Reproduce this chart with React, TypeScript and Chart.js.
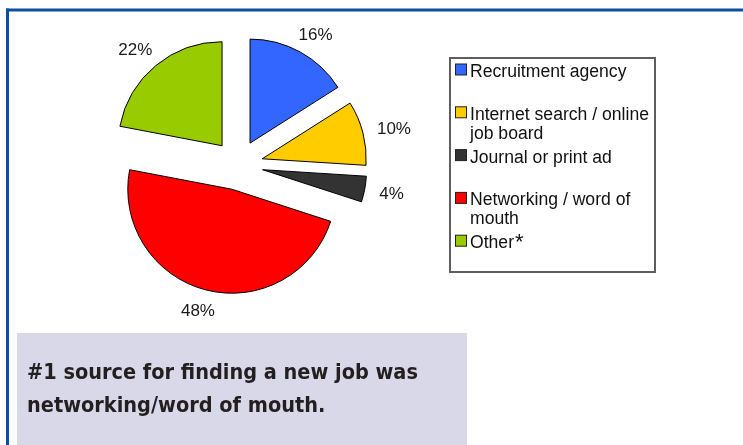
import React, { useEffect, useRef } from 'react';
import { Chart, registerables } from 'chart.js';

Chart.register(...registerables);

// ---- data ----
const categories: string[][] = [
  ['Recruitment agency'],
  ['Internet search / online', 'job board'],
  ['Journal or print ad'],
  ['Networking / word of', 'mouth'],
  ['Other*'],
];
const values: number[] = [16, 10, 4, 48, 22];
const sliceColors: string[] = ['#3366FF', '#FFCC00', '#333333', '#FF0000', '#99CC00'];
const valueSuffix = '%';
const captionLines: string[] = ['#1 source for finding a new job was', 'networking/word of mouth.'];

// ---- styling constants ----
const W = 743;
const H = 445;
const EXPLODE = 25;
const LABEL_GAP = 15;
const FONT = '"Liberation Sans", Arial, sans-serif';
const LEGEND_FONT = '17.6px ' + FONT;

const explodePlugin = {
  id: 'explode',
  beforeDatasetDraw(_chart: any, args: any) {
    args.meta.data.forEach((arc: any) => {
      if (arc.__exploded) return;
      const orig = arc.draw;
      arc.draw = function (ctx: CanvasRenderingContext2D, area: any) {
        const mid = (this.startAngle + this.endAngle) / 2;
        ctx.save();
        ctx.translate(Math.cos(mid) * EXPLODE, Math.sin(mid) * EXPLODE);
        orig.call(this, ctx, area);
        ctx.restore();
      };
      arc.__exploded = true;
    });
  },
};

const backgroundPlugin = {
  id: 'bgframe',
  beforeDraw(chart: any) {
    const ctx: CanvasRenderingContext2D = chart.ctx;
    ctx.save();
    ctx.fillStyle = '#FFFFFF';
    ctx.fillRect(0, 0, W, H);
    // blue frame
    ctx.fillStyle = '#0D4F9E';
    ctx.fillRect(6, 8.5, W - 6, 3);
    ctx.fillRect(6, 8.5, 3, H - 8.5);
    // caption box
    ctx.fillStyle = '#D9D8E8';
    ctx.fillRect(17, 333, 450, H - 333);
    ctx.fillStyle = '#231F20';
    ctx.font = 'bold 21.5px "DejaVu Sans Condensed", "DejaVu Sans", sans-serif';
    ctx.textAlign = 'left';
    ctx.textBaseline = 'alphabetic';
    captionLines.forEach((line, i) => {
      ctx.fillText(line, 27, 379 + i * 33);
    });
    ctx.restore();
  },
};

const labelPlugin = {
  id: 'pctLabels',
  afterDatasetsDraw(chart: any) {
    const ctx: CanvasRenderingContext2D = chart.ctx;
    const meta = chart.getDatasetMeta(0);
    ctx.save();
    ctx.font = '17px ' + FONT;
    ctx.fillStyle = '#1A1A1A';
    ctx.textAlign = 'center';
    ctx.textBaseline = 'alphabetic';
    meta.data.forEach((arc: any, i: number) => {
      const p = arc.getProps(['x', 'y', 'startAngle', 'endAngle', 'outerRadius'], true);
      const mid = (p.startAngle + p.endAngle) / 2;
      const dx = Math.cos(mid);
      const dy = Math.sin(mid);
      const text = chart.data.datasets[0].data[i] + valueSuffix;
      const w = ctx.measureText(text).width;
      const h = 12;
      const R = EXPLODE + p.outerRadius + LABEL_GAP;
      const cx = p.x + dx * R + (dx * w) / 2;
      const cy = p.y + dy * R + (dy * h) / 2;
      ctx.fillText(text, cx, cy + 6);
    });
    ctx.restore();
  },
};

const legendPlugin = {
  id: 'boxLegend',
  afterDraw(chart: any) {
    const ctx: CanvasRenderingContext2D = chart.ctx;
    const labels: string[][] = chart.data.labels;
    const colors: string[] = chart.data.datasets[0].backgroundColor;
    ctx.save();
    // box
    ctx.strokeStyle = '#5E5E5E';
    ctx.lineWidth = 2;
    ctx.strokeRect(450, 58, 205, 214);
    ctx.font = LEGEND_FONT;
    ctx.textAlign = 'left';
    ctx.textBaseline = 'alphabetic';
    labels.forEach((lines, i) => {
      const base = 77 + i * 42.8;
      ctx.fillStyle = colors[i];
      ctx.fillRect(455.5, base - 13, 11, 11);
      ctx.strokeStyle = '#222222';
      ctx.lineWidth = 1;
      ctx.strokeRect(455.5, base - 13, 11, 11);
      ctx.fillStyle = '#111111';
      lines.forEach((line, j) => {
        const y = base + j * 19;
        if (line.endsWith('*')) {
          const t = line.slice(0, -1);
          ctx.font = LEGEND_FONT;
          ctx.fillText(t, 470, y);
          const tw = ctx.measureText(t).width;
          ctx.font = '22px ' + FONT;
          ctx.fillText('*', 470 + tw + 1, y + 1);
          ctx.font = LEGEND_FONT;
        } else {
          ctx.fillText(line, 470, y);
        }
      });
    });
    ctx.restore();
  },
};

export default function App() {
  const canvasRef = useRef<HTMLCanvasElement | null>(null);

  useEffect(() => {
    if (!canvasRef.current) return;
    const cx = 238;
    const cy = 165;
    const half = 104.5;
    const chart = new Chart(canvasRef.current, {
      type: 'pie',
      data: {
        labels: categories,
        datasets: [
          {
            data: values,
            backgroundColor: sliceColors,
            borderColor: '#000000',
            borderWidth: 1,
          },
        ],
      },
      options: {
        responsive: false,
        maintainAspectRatio: false,
        animation: false,
        events: [],
        layout: {
          padding: {
            left: cx - half,
            top: cy - half,
            right: W - (cx + half),
            bottom: H - (cy + half),
          },
        },
        plugins: {
          legend: { display: false },
          tooltip: { enabled: false },
        },
      },
      plugins: [backgroundPlugin, explodePlugin, labelPlugin, legendPlugin],
    });
    return () => chart.destroy();
  }, []);

  return (
    <div style={{ position: 'fixed', left: 0, top: 0, width: W, height: H, background: '#fff' }}>
      <canvas ref={canvasRef} width={W} height={H} style={{ width: W, height: H, display: 'block' }} />
    </div>
  );
}
